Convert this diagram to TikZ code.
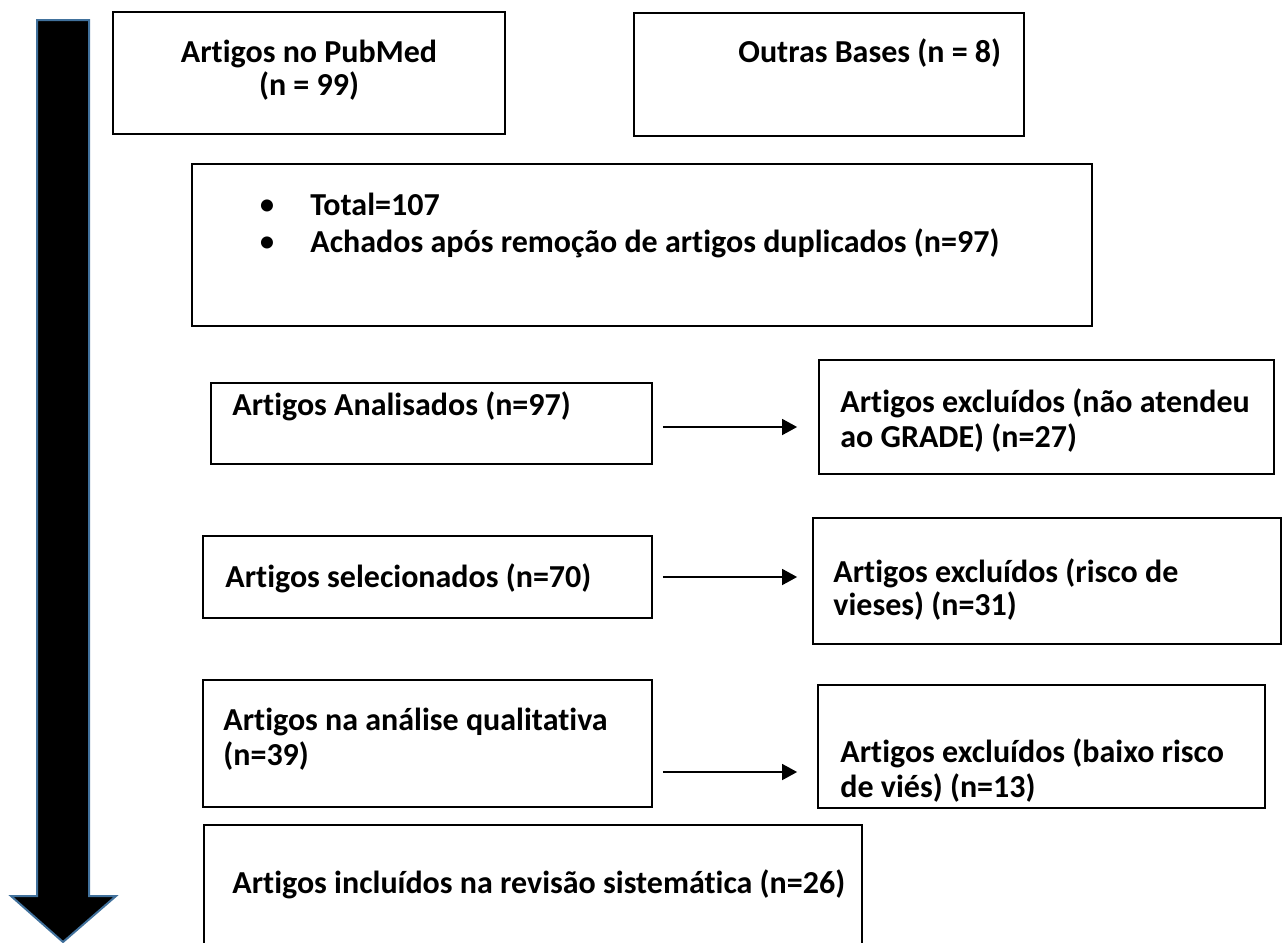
\documentclass[tikz,border=0pt]{standalone}
\usepackage{fontspec}
\setmainfont{Carlito}[Ligatures=NoCommon]
\usetikzlibrary{arrows.meta}
\definecolor{arrowedge}{HTML}{41719C}
\begin{document}
\begin{tikzpicture}[x=0.5pt,y=-0.5pt,
  box/.style={draw=black, line width=0.9pt, rectangle, inner sep=0pt},
  txt/.style={font=\fontsize{16}{19}\selectfont\bfseries, inner sep=0pt, anchor=base west},
  ctxt/.style={txt, anchor=base},
  flow/.style={-{Triangle[length=7.5pt,width=8pt]}, line width=0.8pt},
  bigarrow/.style={fill=black, draw=arrowedge, line width=1pt, line join=miter}]
\useasboundingbox (0,0) rectangle (1288,942);
\clip (0,0) rectangle (1288,942);
% big downward arrow
\draw[bigarrow] (37,20) -- (89,20) -- (89,896) -- (116,896) -- (63,942) -- (11,896) -- (37,896) -- cycle;
% boxes
\node[box, minimum width=196pt, minimum height=61pt] (b1) at (309,73) {};
\node[box, minimum width=195pt, minimum height=61.5pt] (b2) at (829,74.5) {};
\node[box, minimum width=450pt, minimum height=81pt] (b3) at (642,245) {};
\node[box, minimum width=220.5pt, minimum height=40.5pt] (b4) at (431.5,423.5) {};
\node[box, minimum width=227.5pt, minimum height=57pt] (b5) at (1046.5,417) {};
\node[box, minimum width=224.5pt, minimum height=41pt] (b6) at (427.5,577) {};
\node[box, minimum width=234pt, minimum height=63pt] (b7) at (1047,581) {};
\node[box, minimum width=224.5pt, minimum height=63.5pt] (b8) at (427.5,743.5) {};
\node[box, minimum width=223.5pt, minimum height=61.5pt] (b9) at (1041.5,746.5) {};
\node[box, minimum width=329pt, minimum height=64pt] (b10) at (533,889) {};
% texts
\node[ctxt] (t1a) at (309,62) {Artigos no PubMed};
\node[ctxt] (t1b) at (309,95) {(n = 99)};
\node[txt] (t2) at (738,62) {Outras Bases (n = 8)};
\node[ctxt, font=\fontsize{17}{19}\selectfont] (u3a) at (267,215) {\textbullet};
\node[ctxt, font=\fontsize{17}{19}\selectfont] (u3b) at (267,252) {\textbullet};
\node[txt] (t3a) at (310,215) {Total=107};
\node[txt] (t3b) at (310,252) {Achados após remoção de artigos duplicados (n=97)};
\node[txt] (t4) at (232,415) {Artigos Analisados (n=97)};
\node[txt] (t5a) at (840,412) {Artigos excluídos (não atendeu};
\node[txt] (t5b) at (840,447) {ao GRADE) (n=27)};
\node[txt] (t6) at (225,587) {Artigos selecionados (n=70)};
\node[txt] (t7a) at (833,582) {Artigos excluídos (risco de};
\node[txt] (t7b) at (833,615) {vieses) (n=31)};
\node[txt] (t8a) at (223,730) {Artigos na análise qualitativa};
\node[txt] (t8b) at (223,765) {(n=39)};
\node[txt] (t9a) at (840,762) {Artigos excluídos (baixo risco};
\node[txt] (t9b) at (840,797) {de viés) (n=13)};
\node[txt] (t10) at (232,893) {Artigos incluídos na revisão sistemática (n=26)};
% connectors
\draw[flow] ([shift={(10,3.5)}]b4.east) -- ([shift={(-21,10)}]b5.west);
\draw[flow] ([shift={(10,0)}]b6.east) -- ([shift={(-15,-4)}]b7.west);
\draw[flow] ([shift={(10,28.5)}]b8.east) -- ([shift={(-20,25.5)}]b9.west);
\end{tikzpicture}
\end{document}
